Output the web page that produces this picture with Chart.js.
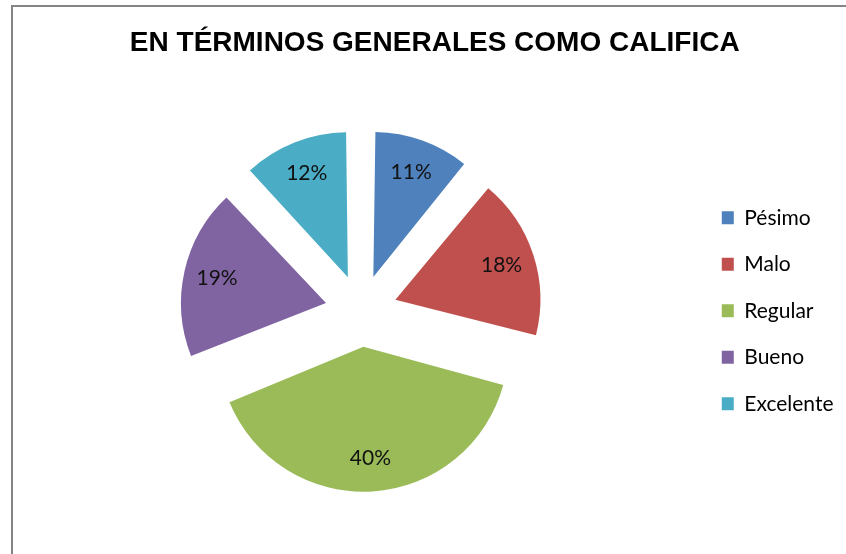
<!DOCTYPE html>
<html>
<head>
<meta charset="utf-8">
<script src="https://cdn.jsdelivr.net/npm/chart.js@4"></script>
<style>
  html, body { margin: 0; padding: 0; background: #fff; overflow: hidden; }
  .frame { position: absolute; left: 11px; top: 5px; width: 900px; height: 600px; border-left: 2px solid #858585; border-top: 2px solid #858585; }
  canvas { position: absolute; left: 0; top: 0; }
</style>
</head>
<body>
<div class="frame"></div>
<canvas id="chart" width="846" height="554"></canvas>
<script>
const title = "EN TÉRMINOS GENERALES COMO CALIFICA"
const categories = ["Pésimo", "Malo", "Regular", "Bueno", "Excelente"]
const percentages = [11, 18, 40, 19, 12]
const sliceColors = ["#4F81BD", "#C0504D", "#9BBB59", "#8064A2", "#4BACC6"]

const PIE_RADIUS = 145
const EXPLODE = 36 // distance each slice is pulled out

// chart.js grows the radius of exploded arcs a bit, keep them all the same size
const evenRadius = {
  id: "evenRadius",
  afterDatasetUpdate(chart, args) {
    args.meta.data.forEach(arc => {
      const shift = (arc.options.offset || 0) / 4
      const fix = 1 - Math.sin(Math.min(Math.PI, arc.circumference))
      arc.outerRadius = PIE_RADIUS - shift * fix
    })
  }
}

// percentage text inside each slice
const sliceLabels = {
  id: "sliceLabels",
  afterDatasetsDraw(chart) {
    const ctx = chart.ctx
    const meta = chart.getDatasetMeta(0)
    ctx.save()
    ctx.font = "21px Lato"
    ctx.fillStyle = "#111"
    ctx.textAlign = "center"
    ctx.textBaseline = "middle"
    meta.data.forEach((arc, i) => {
      const mid = (arc.startAngle + arc.endAngle) / 2
      const dist = EXPLODE + PIE_RADIUS * 0.77
      ctx.fillText(percentages[i] + "%", arc.x + Math.cos(mid) * dist, arc.y + Math.sin(mid) * dist)
    })
    ctx.restore()
  }
}

new Chart(document.getElementById("chart"), {
  type: "pie",
  data: {
    labels: categories,
    datasets: [{
      data: percentages,
      backgroundColor: sliceColors,
      borderWidth: 0,
      offset: EXPLODE * 4
    }]
  },
  options: {
    responsive: false,
    animation: false,
    radius: PIE_RADIUS,
    layout: { padding: { left: 26, right: 2.5, top: 0, bottom: 2 } },
    plugins: {
      title: {
        display: true,
        text: title,
        color: "#000",
        font: { family: "Liberation Sans", size: 28, weight: "bold", lineHeight: 1.2 },
        padding: { top: 26, bottom: 10 }
      },
      legend: {
        position: "right",
        fullSize: false,
        labels: {
          color: "#000",
          font: { family: "Lato", size: 21 },
          boxWidth: 12,
          boxHeight: 13,
          padding: 25.5
        }
      },
      tooltip: { enabled: false }
    }
  },
  plugins: [evenRadius, sliceLabels]
})
</script>
</body>
</html>
